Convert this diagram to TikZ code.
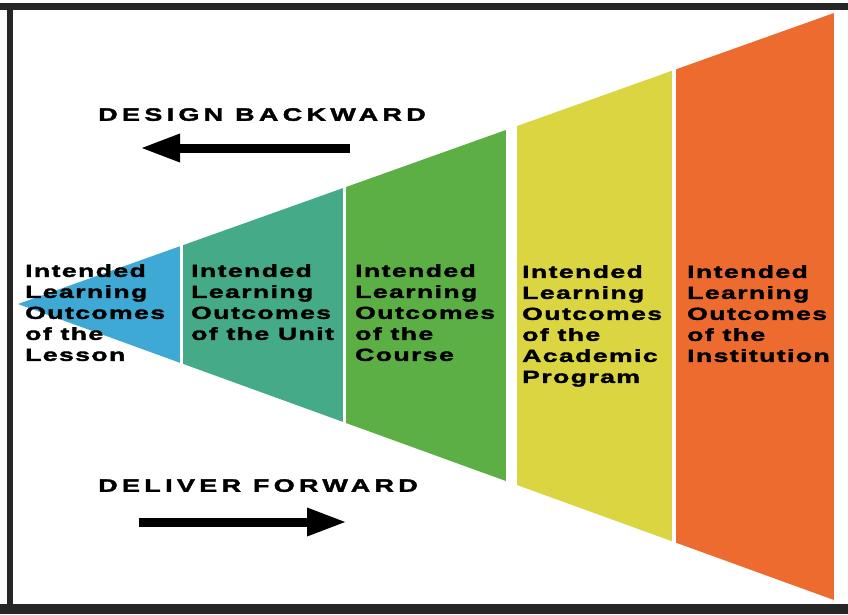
\documentclass[tikz,border=0pt]{standalone}
\usepackage{fontspec}
\setmainfont{Liberation Sans}
\newfontfamily\boxfont{Liberation Sans}[FakeStretch=1.52,LetterSpace=8,FakeBold=2]
\newfontfamily\headfont{Liberation Sans}[FakeStretch=1.5,LetterSpace=24,FakeBold=2]
\usetikzlibrary{arrows.meta}
\definecolor{lessonblue}{HTML}{3DA9D4}
\definecolor{unitteal}{HTML}{45AA88}
\definecolor{coursegreen}{HTML}{5BAF44}
\definecolor{programyellow}{HTML}{DAD540}
\definecolor{instorange}{HTML}{EE6B2F}
\tikzset{
  outcome/.style={anchor=north west, align=left, inner sep=0pt,
    font=\boxfont\bfseries\fontsize{17.5}{21}\selectfont},
  heading/.style={anchor=north west, inner sep=0pt,
    font=\headfont\bfseries\fontsize{18}{21}\selectfont},
  bigarrow/.style={line width=9pt, -{Triangle[length=40pt,width=26pt]}}
}

\begin{document}
\begin{tikzpicture}[x=1pt,y=-1pt]
\useasboundingbox (0,0) rectangle (848,614);
\fill[white] (0,0) rectangle (848,614);
% frame
\fill[black!85] (0,3) rectangle (848,10);
\fill[black!85] (7,3) rectangle (13,614);
\fill[black!85] (0,604) rectangle (848,614);
% funnel bands
\begin{scope}
\clip (18,304) -- (834,13) -- (834,600) -- cycle;
\fill[lessonblue] (18,0) rectangle (180,614);
\fill[unitteal] (183,0) rectangle (343,614);
\fill[coursegreen] (346,0) rectangle (506,614);
\fill[programyellow] (517,0) rectangle (672,614);
\fill[instorange] (676,0) rectangle (834,614);
\end{scope}
\node[outcome] (lesson) at (25,264) {Intended\\Learning\\Outcomes\\of the\\Lesson};
\node[outcome] (unit) at (191,264) {Intended\\Learning\\Outcomes\\of the Unit};
\node[outcome] (course) at (355,264) {Intended\\Learning\\Outcomes\\of the\\Course};
\node[outcome] (program) at (522,265) {Intended\\Learning\\Outcomes\\of the\\Academic\\Program};
\node[outcome] (institution) at (687,265) {Intended\\Learning\\Outcomes\\of the\\Institution};
% directions
\node[heading] (design) at (98,108) {DESIGN BACKWARD};
\node[heading] (deliver) at (98,479) {DELIVER FORWARD};
\coordinate (back from) at (350,148);
\coordinate (back to) at (140,148);
\coordinate (fwd from) at (139,522);
\coordinate (fwd to) at (347,522);
\draw[bigarrow] (back from) -- (back to);
\draw[bigarrow] (fwd from) -- (fwd to);
\end{tikzpicture}
\end{document}
